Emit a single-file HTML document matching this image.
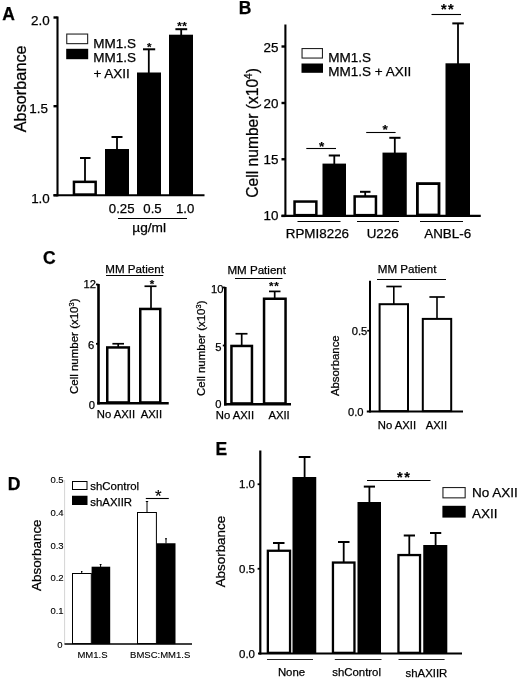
<!DOCTYPE html>
<html lang="en">
<head>
<meta charset="utf-8">
<title>Figure: AXII effects on MM cell growth</title>
<style>
html,body{margin:0;padding:0;background:#fff;}
body{width:520px;height:681px;overflow:hidden;}
svg{display:block;}
svg text{font-family:"Liberation Sans",Arial,Helvetica,sans-serif;fill:#000;stroke:#000;stroke-width:0.25px;}
svg text.sm{stroke-width:0.12px;}
svg text.st{stroke-width:0.15px;}
</style>
</head>
<body>
<svg width="520" height="681" viewBox="0 0 520 681">
<rect x="0" y="0" width="520" height="681" fill="#fff"/>
<!-- Panel A -->
<text x="2.2" y="20" font-size="17.5" font-weight="bold">A</text>
<rect x="73.95" y="181.85" width="21.7" height="12.7" fill="#fff" stroke="#000" stroke-width="2.5"/>
<rect x="105" y="149" width="24" height="46.3" fill="#000"/>
<rect x="137" y="72.5" width="24" height="122.8" fill="#000"/>
<rect x="169" y="34.7" width="24" height="160.6" fill="#000"/>
<line x1="85" y1="158" x2="85" y2="181" stroke="#000" stroke-width="1.8"/>
<line x1="80" y1="158" x2="90.5" y2="158" stroke="#000" stroke-width="2"/>
<line x1="117" y1="137" x2="117" y2="149.5" stroke="#000" stroke-width="1.8"/>
<line x1="111.5" y1="137" x2="122.5" y2="137" stroke="#000" stroke-width="2"/>
<line x1="148.8" y1="49.3" x2="148.8" y2="73" stroke="#000" stroke-width="1.8"/>
<line x1="143" y1="49.3" x2="155.2" y2="49.3" stroke="#000" stroke-width="2"/>
<line x1="181.2" y1="29.2" x2="181.2" y2="35" stroke="#000" stroke-width="1.8"/>
<line x1="175.4" y1="29.2" x2="187.2" y2="29.2" stroke="#000" stroke-width="2"/>
<line x1="57.5" y1="16.5" x2="57.5" y2="196.35" stroke="#000" stroke-width="2.1"/>
<line x1="53.5" y1="195.3" x2="204.5" y2="195.3" stroke="#000" stroke-width="2.1"/>
<line x1="53.5" y1="17.5" x2="57.5" y2="17.5" stroke="#000" stroke-width="2.4"/>
<line x1="53.5" y1="106.2" x2="57.5" y2="106.2" stroke="#000" stroke-width="2.4"/>
<line x1="53.5" y1="195.3" x2="57.5" y2="195.3" stroke="#000" stroke-width="2.4"/>
<text x="49.6" y="25.3" font-size="13.4" text-anchor="end">2.0</text>
<text x="47.9" y="112.8" font-size="13.4" text-anchor="end">1.5</text>
<text x="49.8" y="203" font-size="13.4" text-anchor="end">1.0</text>
<text x="149.2" y="50.97" font-size="11.5" text-anchor="middle" font-weight="bold" class="st">*</text>
<text x="179.4" y="29.67" font-size="11.5" text-anchor="middle" font-weight="bold" class="st">*</text>
<text x="184.6" y="29.67" font-size="11.5" text-anchor="middle" font-weight="bold" class="st">*</text>
<rect x="66.75" y="34.05" width="20.9" height="9.6" fill="#fff" stroke="#222" stroke-width="1.1"/>
<rect x="66.2" y="48.8" width="22" height="10.4" fill="#000"/>
<text x="93.2" y="48" font-size="13.5">MM1.S</text>
<text x="93.2" y="62.2" font-size="13.5">MM1.S</text>
<text x="93.4" y="78" font-size="13.5">+ AXII</text>
<text x="121.7" y="213" font-size="13.2" text-anchor="middle">0.25</text>
<text x="152.5" y="213" font-size="13.2" text-anchor="middle">0.5</text>
<text x="185.2" y="213" font-size="13.2" text-anchor="middle">1.0</text>
<line x1="118" y1="218.5" x2="187" y2="218.5" stroke="#000" stroke-width="1.1"/>
<text x="149.2" y="232" font-size="13.7" text-anchor="middle">µg/ml</text>
<text transform="translate(26 88.8) rotate(-90)" font-size="16.3" text-anchor="middle">Absorbance</text>
<!-- Panel B -->
<text x="238.7" y="14.2" font-size="17.5" font-weight="bold">B</text>
<rect x="294.55" y="201.55" width="21.8" height="13.6" fill="#fff" stroke="#000" stroke-width="2.5"/>
<rect x="322.5" y="163.6" width="23.5" height="52.3" fill="#000"/>
<rect x="354.65" y="196.45" width="21.3" height="18.7" fill="#fff" stroke="#000" stroke-width="2.5"/>
<rect x="382.5" y="152.6" width="24.25" height="63.3" fill="#000"/>
<rect x="417.4" y="183.6" width="21.6" height="31.4" fill="#fff" stroke="#000" stroke-width="2.8"/>
<rect x="445.5" y="63.3" width="24.5" height="152.6" fill="#000"/>
<line x1="334.3" y1="155.5" x2="334.3" y2="164.5" stroke="#000" stroke-width="1.8"/>
<line x1="328.75" y1="155.5" x2="340" y2="155.5" stroke="#000" stroke-width="2"/>
<line x1="365.2" y1="191.8" x2="365.2" y2="196" stroke="#000" stroke-width="1.8"/>
<line x1="360" y1="191.8" x2="370.5" y2="191.8" stroke="#000" stroke-width="2"/>
<line x1="394.8" y1="137.8" x2="394.8" y2="153.5" stroke="#000" stroke-width="1.8"/>
<line x1="389.3" y1="137.8" x2="400.5" y2="137.8" stroke="#000" stroke-width="2"/>
<line x1="458" y1="23.4" x2="458" y2="64" stroke="#000" stroke-width="1.8"/>
<line x1="452.3" y1="23.4" x2="463.8" y2="23.4" stroke="#000" stroke-width="2"/>
<line x1="285.4" y1="24.5" x2="285.4" y2="216.95" stroke="#000" stroke-width="2.1"/>
<line x1="281.5" y1="215.9" x2="480.75" y2="215.9" stroke="#000" stroke-width="2.1"/>
<line x1="281.5" y1="46.5" x2="285.4" y2="46.5" stroke="#000" stroke-width="2.4"/>
<line x1="281.5" y1="103" x2="285.4" y2="103" stroke="#000" stroke-width="2.4"/>
<line x1="281.5" y1="159.25" x2="285.4" y2="159.25" stroke="#000" stroke-width="2.4"/>
<line x1="281.5" y1="215.9" x2="285.4" y2="215.9" stroke="#000" stroke-width="2.4"/>
<text x="278.5" y="51.6" font-size="13.4" text-anchor="end">25</text>
<text x="278.5" y="107.5" font-size="13.4" text-anchor="end">20</text>
<text x="278.5" y="163.75" font-size="13.4" text-anchor="end">15</text>
<text x="278.5" y="219.75" font-size="13.4" text-anchor="end">10</text>
<rect x="302.05" y="48.55" width="20.4" height="9.5" fill="#fff" stroke="#222" stroke-width="1.1"/>
<rect x="301.5" y="63.5" width="21.5" height="9.3" fill="#000"/>
<text x="328.3" y="61.5" font-size="13.5">MM1.S</text>
<text x="328.3" y="75.6" font-size="13.5">MM1.S + AXII</text>
<line x1="306.3" y1="148.5" x2="336" y2="148.5" stroke="#000" stroke-width="1.1"/>
<text x="321.7" y="150.68" font-size="13.5" text-anchor="middle" font-weight="bold" class="st">*</text>
<line x1="366.2" y1="132.5" x2="395.6" y2="132.5" stroke="#000" stroke-width="1.1"/>
<text x="385.1" y="134.18" font-size="13.5" text-anchor="middle" font-weight="bold" class="st">*</text>
<line x1="431.5" y1="14.5" x2="461" y2="14.5" stroke="#000" stroke-width="1.1"/>
<text x="443.85" y="13.58" font-size="14.5" text-anchor="middle" font-weight="bold" class="st">*</text>
<text x="450.95" y="13.58" font-size="14.5" text-anchor="middle" font-weight="bold" class="st">*</text>
<line x1="297.5" y1="221.5" x2="340.5" y2="221.5" stroke="#000" stroke-width="1.1"/>
<line x1="357" y1="221.5" x2="399" y2="221.5" stroke="#000" stroke-width="1.1"/>
<line x1="420" y1="221.5" x2="463" y2="221.5" stroke="#000" stroke-width="1.1"/>
<text x="317.4" y="237.5" font-size="13.4" text-anchor="middle">RPMI8226</text>
<text x="382.7" y="237.5" font-size="13.4" text-anchor="middle">U226</text>
<text x="447.7" y="237.5" font-size="13.4" text-anchor="middle">ANBL-6</text>
<text transform="translate(257.5 132.9) rotate(-90)" font-size="15.6" text-anchor="middle">Cell number (x10<tspan font-size="10" dy="-6">4</tspan><tspan dy="6">)</tspan></text>
<!-- Panel C -->
<text x="43" y="263.9" font-size="17.5" font-weight="bold">C</text>
<rect x="107.25" y="347.45" width="21.6" height="55" fill="#fff" stroke="#000" stroke-width="2.5"/>
<rect x="140.25" y="308.95" width="20" height="93.5" fill="#fff" stroke="#000" stroke-width="2.5"/>
<line x1="118.2" y1="343.75" x2="118.2" y2="347" stroke="#000" stroke-width="1.7"/>
<line x1="112.4" y1="343.75" x2="124" y2="343.75" stroke="#000" stroke-width="1.7"/>
<line x1="151" y1="286.25" x2="151" y2="308.5" stroke="#000" stroke-width="1.7"/>
<line x1="144.5" y1="286.25" x2="156.5" y2="286.25" stroke="#000" stroke-width="1.7"/>
<line x1="98.5" y1="284" x2="98.5" y2="404.5" stroke="#000" stroke-width="2.6"/>
<line x1="97.2" y1="403.2" x2="168.75" y2="403.2" stroke="#000" stroke-width="2.6"/>
<line x1="96" y1="284.5" x2="98.5" y2="284.5" stroke="#000" stroke-width="1.8"/>
<line x1="96" y1="343.8" x2="98.5" y2="343.8" stroke="#000" stroke-width="1.8"/>
<text x="96" y="287.8" font-size="11.2" text-anchor="end">12</text>
<text x="94.3" y="348.6" font-size="11.2" text-anchor="end">6</text>
<text x="95" y="409" font-size="11.2" text-anchor="end">0</text>
<text x="134.6" y="272.7" font-size="11.6" text-anchor="middle">MM Patient</text>
<line x1="106" y1="275.5" x2="163.25" y2="275.5" stroke="#000" stroke-width="1.1"/>
<text x="151.9" y="287.87" font-size="11.5" text-anchor="middle" font-weight="bold" class="st">*</text>
<text x="116" y="417.5" font-size="11.3" text-anchor="middle">No AXII</text>
<text x="151.4" y="417.5" font-size="11.3" text-anchor="middle">AXII</text>
<text transform="translate(78.4 346.25) rotate(-90)" font-size="11.5" text-anchor="middle">Cell number (x10<tspan font-size="7.5" dy="-4.5">3</tspan><tspan dy="4.5">)</tspan></text>
<rect x="231.45" y="345.95" width="20.5" height="57.5" fill="#fff" stroke="#000" stroke-width="2.5"/>
<rect x="264.05" y="298.75" width="21.5" height="104.7" fill="#fff" stroke="#000" stroke-width="2.5"/>
<line x1="241.7" y1="333.75" x2="241.7" y2="345.5" stroke="#000" stroke-width="1.7"/>
<line x1="235.5" y1="333.75" x2="247.5" y2="333.75" stroke="#000" stroke-width="1.7"/>
<line x1="274.7" y1="291.4" x2="274.7" y2="298.5" stroke="#000" stroke-width="1.7"/>
<line x1="269" y1="291.4" x2="280.5" y2="291.4" stroke="#000" stroke-width="1.7"/>
<line x1="225.3" y1="287" x2="225.3" y2="405.5" stroke="#000" stroke-width="2.6"/>
<line x1="224" y1="404.2" x2="291" y2="404.2" stroke="#000" stroke-width="2.6"/>
<line x1="222.8" y1="287.5" x2="225.3" y2="287.5" stroke="#000" stroke-width="1.8"/>
<line x1="222.8" y1="345.5" x2="225.3" y2="345.5" stroke="#000" stroke-width="1.8"/>
<text x="223.5" y="293" font-size="11.2" text-anchor="end">10</text>
<text x="221.6" y="351" font-size="11.2" text-anchor="end">5</text>
<text x="221.6" y="408" font-size="11.2" text-anchor="end">0</text>
<text x="256.7" y="274" font-size="11.6" text-anchor="middle">MM Patient</text>
<line x1="235" y1="278.5" x2="282.5" y2="278.5" stroke="#000" stroke-width="1.1"/>
<text x="271.3" y="289.97" font-size="11.5" text-anchor="middle" font-weight="bold" class="st">*</text>
<text x="276.5" y="289.97" font-size="11.5" text-anchor="middle" font-weight="bold" class="st">*</text>
<text x="235" y="419" font-size="11.3" text-anchor="middle">No AXII</text>
<text x="279.1" y="419" font-size="11.3" text-anchor="middle">AXII</text>
<text transform="translate(205 348.25) rotate(-90)" font-size="11.5" text-anchor="middle">Cell number (x10<tspan font-size="7.5" dy="-4.5">3</tspan><tspan dy="4.5">)</tspan></text>
<rect x="379.6" y="304.2" width="28.4" height="106.9" fill="#fff" stroke="#000" stroke-width="2"/>
<rect x="422.8" y="318.9" width="28.4" height="92.2" fill="#fff" stroke="#000" stroke-width="2"/>
<line x1="393.8" y1="286.5" x2="393.8" y2="304" stroke="#000" stroke-width="1.6"/>
<line x1="386.3" y1="286.5" x2="401.7" y2="286.5" stroke="#000" stroke-width="1.7"/>
<line x1="437" y1="297" x2="437" y2="319" stroke="#000" stroke-width="1.6"/>
<line x1="429.4" y1="297" x2="444.8" y2="297" stroke="#000" stroke-width="1.7"/>
<line x1="370" y1="280.8" x2="370" y2="412.6" stroke="#000" stroke-width="2"/>
<line x1="366.8" y1="411.6" x2="463" y2="411.6" stroke="#000" stroke-width="2"/>
<line x1="367.2" y1="330.7" x2="370" y2="330.7" stroke="#000" stroke-width="1.7"/>
<text x="367.3" y="334.8" font-size="11.2" text-anchor="end">0.5</text>
<text x="363.5" y="416.3" font-size="11.2" text-anchor="end">0.0</text>
<text x="407.1" y="273" font-size="11.6" text-anchor="middle">MM Patient</text>
<line x1="377" y1="279.5" x2="446" y2="279.5" stroke="#000" stroke-width="1.1"/>
<text x="396.9" y="429" font-size="11.3" text-anchor="middle">No AXII</text>
<text x="436.4" y="429" font-size="11.3" text-anchor="middle">AXII</text>
<text transform="translate(339.3 365.7) rotate(-90)" font-size="11.4" text-anchor="middle">Absorbance</text>
<!-- Panel D -->
<text x="7.8" y="490" font-size="17.5" font-weight="bold">D</text>
<line x1="64.6" y1="480" x2="64.6" y2="644.1" stroke="#d4d4d4" stroke-width="1"/>
<rect x="72.5" y="573.5" width="18.8" height="70.1" fill="#fff" stroke="#000" stroke-width="1"/>
<rect x="91.6" y="566.7" width="18.6" height="77.4" fill="#000"/>
<rect x="137.5" y="512.5" width="18.9" height="131.1" fill="#fff" stroke="#000" stroke-width="1"/>
<rect x="156.75" y="543.25" width="18.75" height="100.85" fill="#000"/>
<line x1="81.7" y1="571.5" x2="81.7" y2="573.5" stroke="#000" stroke-width="1"/>
<line x1="81" y1="571.5" x2="82.4" y2="571.5" stroke="#000" stroke-width="1"/>
<line x1="100.6" y1="564.5" x2="100.6" y2="567" stroke="#000" stroke-width="1"/>
<line x1="99.7" y1="564.5" x2="101.5" y2="564.5" stroke="#000" stroke-width="1"/>
<line x1="147" y1="501.5" x2="147" y2="512" stroke="#000" stroke-width="1"/>
<line x1="145.8" y1="501.5" x2="148.2" y2="501.5" stroke="#000" stroke-width="1"/>
<line x1="166" y1="538.75" x2="166" y2="543.5" stroke="#000" stroke-width="1"/>
<line x1="165" y1="538.75" x2="167" y2="538.75" stroke="#000" stroke-width="1"/>
<line x1="64.5" y1="644.1" x2="192" y2="644.1" stroke="#000" stroke-width="1.5"/>
<text x="63.6" y="482.8" font-size="9.5" text-anchor="end" class="sm">0.5</text>
<text x="63.6" y="516" font-size="9.5" text-anchor="end" class="sm">0.4</text>
<text x="63.6" y="548.8" font-size="9.5" text-anchor="end" class="sm">0.3</text>
<text x="63.6" y="581.4" font-size="9.5" text-anchor="end" class="sm">0.2</text>
<text x="63.6" y="614.4" font-size="9.5" text-anchor="end" class="sm">0.1</text>
<text x="62.5" y="647.8" font-size="9.5" text-anchor="end" class="sm">0</text>
<rect x="72.5" y="481.5" width="14.5" height="8" fill="#fff" stroke="#000" stroke-width="1"/>
<rect x="72" y="495.75" width="15.5" height="9.25" fill="#000"/>
<text x="90.3" y="490" font-size="11.4">shControl</text>
<text x="90.3" y="505.5" font-size="11.4">shAXIIR</text>
<line x1="145.8" y1="498.5" x2="168.8" y2="498.5" stroke="#000" stroke-width="1.1"/>
<text x="158.2" y="501.81" font-size="17" text-anchor="middle" class="st">*</text>
<text x="92.5" y="658.4" font-size="9.5" text-anchor="middle" class="sm">MM1.S</text>
<text x="160.2" y="658.4" font-size="9.5" text-anchor="middle" class="sm">BMSC:MM1.S</text>
<text transform="translate(41.4 555.2) rotate(-90)" font-size="13.4" text-anchor="middle">Absorbance</text>
<!-- Panel E -->
<text x="215.6" y="454.8" font-size="17.5" font-weight="bold">E</text>
<rect x="267.85" y="550.75" width="22.2" height="102.1" fill="#fff" stroke="#000" stroke-width="2.3"/>
<rect x="292.5" y="477" width="23.75" height="176.5" fill="#000"/>
<rect x="332.95" y="562.55" width="21.5" height="90.3" fill="#fff" stroke="#000" stroke-width="2.3"/>
<rect x="357.5" y="502" width="23.5" height="151.5" fill="#000"/>
<rect x="398.45" y="555.05" width="21.6" height="97.8" fill="#fff" stroke="#000" stroke-width="2.3"/>
<rect x="423.25" y="545" width="24.05" height="108.5" fill="#000"/>
<line x1="278.7" y1="543" x2="278.7" y2="550.5" stroke="#000" stroke-width="1.8"/>
<line x1="273" y1="543" x2="284.5" y2="543" stroke="#000" stroke-width="2"/>
<line x1="304.6" y1="457" x2="304.6" y2="477.5" stroke="#000" stroke-width="1.8"/>
<line x1="298.75" y1="457" x2="310.5" y2="457" stroke="#000" stroke-width="2"/>
<line x1="343.7" y1="542" x2="343.7" y2="562.5" stroke="#000" stroke-width="1.8"/>
<line x1="338" y1="542" x2="349.5" y2="542" stroke="#000" stroke-width="2"/>
<line x1="369.4" y1="486.6" x2="369.4" y2="502.5" stroke="#000" stroke-width="1.8"/>
<line x1="363.8" y1="486.6" x2="375" y2="486.6" stroke="#000" stroke-width="2"/>
<line x1="409.3" y1="535.5" x2="409.3" y2="555" stroke="#000" stroke-width="1.8"/>
<line x1="403.75" y1="535.5" x2="415" y2="535.5" stroke="#000" stroke-width="2"/>
<line x1="435.6" y1="533" x2="435.6" y2="545.5" stroke="#000" stroke-width="1.8"/>
<line x1="430" y1="533" x2="441.25" y2="533" stroke="#000" stroke-width="2"/>
<line x1="260.3" y1="450.5" x2="260.3" y2="654.6" stroke="#000" stroke-width="2.2"/>
<line x1="258" y1="653.5" x2="462" y2="653.5" stroke="#000" stroke-width="2.2"/>
<line x1="257.6" y1="484.25" x2="260.3" y2="484.25" stroke="#000" stroke-width="1.8"/>
<line x1="257.6" y1="568.75" x2="260.3" y2="568.75" stroke="#000" stroke-width="1.8"/>
<text x="255" y="488" font-size="11.5" text-anchor="end">1.0</text>
<text x="255" y="572.7" font-size="11.5" text-anchor="end">0.5</text>
<text x="255" y="657.6" font-size="11.5" text-anchor="end">0.0</text>
<line x1="367" y1="480.5" x2="430.5" y2="480.5" stroke="#000" stroke-width="1.1"/>
<text x="399.95" y="481.78" font-size="14.5" text-anchor="middle" font-weight="bold" class="st">*</text>
<text x="407.05" y="481.78" font-size="14.5" text-anchor="middle" font-weight="bold" class="st">*</text>
<rect x="442.95" y="487.55" width="22.2" height="10.3" fill="#fff" stroke="#222" stroke-width="1.1"/>
<rect x="442.4" y="505.8" width="23.3" height="11.8" fill="#000"/>
<text x="472" y="497.3" font-size="13.5">No AXII</text>
<text x="472" y="517.5" font-size="13.5">AXII</text>
<line x1="267" y1="659.5" x2="313" y2="659.5" stroke="#222" stroke-width="1"/>
<line x1="334.8" y1="659.5" x2="381.5" y2="659.5" stroke="#222" stroke-width="1"/>
<line x1="398.5" y1="659.5" x2="444.6" y2="659.5" stroke="#222" stroke-width="1"/>
<text x="291.5" y="675.5" font-size="11.4" text-anchor="middle">None</text>
<text x="356.6" y="676" font-size="11.4" text-anchor="middle">shControl</text>
<text x="426.4" y="677" font-size="11.4" text-anchor="middle">shAXIIR</text>
<text transform="translate(225.3 551.6) rotate(-90)" font-size="13.4" text-anchor="middle">Absorbance</text>
</svg>
</body>
</html>
